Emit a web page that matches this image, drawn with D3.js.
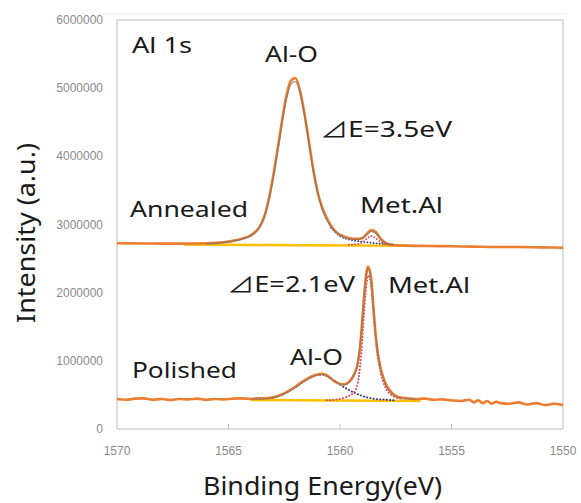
<!DOCTYPE html>
<html>
<head>
<meta charset="utf-8">
<script src="https://cdn.jsdelivr.net/npm/d3@7"></script>
<style>
  body { margin: 0; background: #fff; }
  text { font-family: "Noto Sans", "DejaVu Sans", sans-serif; }
</style>
</head>
<body>
<div id="chart"></div>
<script>
// ---- data (binding energy in eV, intensity in counts) ----
var yTicks = [0, 1000000, 2000000, 3000000, 4000000, 5000000, 6000000];
var xTicks = [1570, 1565, 1560, 1555, 1550];

// Annealed sample
var annE = [1570, 1569, 1568, 1567, 1566, 1565.6, 1565.2, 1564.8, 1564.4, 1564,
  1563.8, 1563.6, 1563.4, 1563.2, 1563, 1562.8, 1562.6, 1562.4, 1562.2, 1562,
  1561.8, 1561.6, 1561.4, 1561.2, 1561, 1560.8, 1560.6, 1560.4, 1560.2, 1560,
  1559.8, 1559.6, 1559.4, 1559.2, 1559, 1558.8, 1558.6, 1558.4, 1558.2, 1558,
  1557.8, 1557.6, 1557, 1556, 1555, 1554, 1553, 1552, 1551, 1550];
var annData = [2725000, 2722000, 2720000, 2720000, 2725000, 2730000, 2740000, 2760000, 2790000, 2840000,
  2890000, 2970000, 3110000, 3360000, 3700000, 4100000, 4520000, 4890000, 5110000, 5150000,
  4970000, 4640000, 4230000, 3810000, 3470000, 3250000, 3100000, 2980000, 2900000, 2850000,
  2820000, 2800000, 2790000, 2790000, 2800000, 2860000, 2920000, 2890000, 2800000, 2740000,
  2710000, 2700000, 2690000, 2685000, 2680000, 2675000, 2670000, 2670000, 2665000, 2660000];
var annFitE = [1566, 1565.2, 1564.8, 1564.4, 1564, 1563.6, 1563.2, 1562.8, 1562.4, 1562.2, 1562, 1561.8,
  1561.6, 1561.2, 1560.8, 1560.4, 1560, 1559.6, 1559.2, 1558.8, 1558.6, 1558.4, 1558, 1557.6];
var annFit = [2715000, 2735000, 2755000, 2785000, 2835000, 2960000, 3340000, 4060000, 4840000, 5060000, 5100000, 4940000,
  4620000, 3790000, 3220000, 2960000, 2840000, 2790000, 2780000, 2850000, 2900000, 2870000, 2730000, 2700000];
var annAlOE = [1560.4, 1560, 1559.6, 1559.2, 1558.8, 1558.4, 1558, 1557.6];
var annAlO = [2950000, 2830000, 2780000, 2755000, 2740000, 2725000, 2715000, 2705000];
var annMetE = [1559.6, 1559.2, 1559, 1558.8, 1558.6, 1558.4, 1558.2, 1558, 1557.6];
var annMet = [2705000, 2715000, 2740000, 2790000, 2830000, 2800000, 2750000, 2715000, 2700000];
var annBaseE = [1567, 1557];
var annBase = [2705000, 2688000];

// Polished sample
var polE = [1570, 1569.6, 1569.2, 1568.8, 1568.4, 1568, 1567.6, 1567.2, 1566.8, 1566.4,
  1566, 1565.6, 1565.2, 1564.8, 1564.4, 1564, 1563.6, 1563.2, 1562.8, 1562.4,
  1562, 1561.8, 1561.6, 1561.4, 1561.2, 1561, 1560.8, 1560.6, 1560.4, 1560.2,
  1560, 1559.8, 1559.6, 1559.4, 1559.2, 1559.1, 1559, 1558.9, 1558.8, 1558.75,
  1558.7, 1558.6, 1558.5, 1558.4, 1558.3, 1558.2, 1558, 1557.8, 1557.6, 1557.4,
  1557, 1556.6, 1556.2, 1555.8, 1555.4, 1555, 1554.6, 1554.2, 1554, 1553.8,
  1553.6, 1553.4, 1553.2, 1553, 1552.8, 1552.4, 1552, 1551.6, 1551.2, 1550.8,
  1550.4, 1550];
var polData = [440000, 430000, 445000, 450000, 430000, 440000, 425000, 440000, 435000, 445000,
  430000, 440000, 435000, 445000, 450000, 440000, 450000, 455000, 480000, 540000,
  620000, 670000, 710000, 750000, 780000, 800000, 810000, 790000, 740000, 690000,
  660000, 655000, 690000, 780000, 970000, 1200000, 1600000, 2020000, 2320000, 2380000,
  2360000, 2200000, 1780000, 1380000, 1100000, 920000, 700000, 580000, 510000, 470000,
  450000, 440000, 445000, 430000, 435000, 420000, 410000, 430000, 390000, 420000,
  380000, 410000, 370000, 400000, 380000, 370000, 390000, 360000, 380000, 350000,
  370000, 350000];
var polFitE = [1564, 1563.2, 1562.8, 1562.4, 1562, 1561.6, 1561.2, 1560.8, 1560.4, 1560,
  1559.8, 1559.6, 1559.4, 1559.2, 1559, 1558.9, 1558.8, 1558.75, 1558.7, 1558.6,
  1558.5, 1558.4, 1558.2, 1558, 1557.8, 1557.6, 1557.2, 1556.6];
var polFit = [440000, 450000, 475000, 530000, 610000, 700000, 770000, 800000, 740000, 660000,
  650000, 680000, 770000, 960000, 1580000, 2000000, 2300000, 2350000, 2330000, 2170000,
  1760000, 1360000, 900000, 680000, 560000, 490000, 450000, 430000];
var polAlOE = [1563.6, 1563, 1562.4, 1562, 1561.6, 1561.2, 1560.8, 1560.4, 1560, 1559.6,
  1559.2, 1558.8, 1558.4, 1558, 1557.6];
var polAlO = [445000, 458000, 538000, 615000, 702000, 772000, 796000, 738000, 652000, 572000,
  510000, 465000, 440000, 430000, 420000];
var polMetE = [1560.6, 1560.2, 1559.8, 1559.4, 1559.2, 1559, 1558.9, 1558.8, 1558.75, 1558.7,
  1558.6, 1558.5, 1558.4, 1558.2, 1558, 1557.6, 1557.2];
var polMet = [420000, 430000, 460000, 530000, 680000, 1300000, 1800000, 2150000, 2250000, 2240000,
  2100000, 1700000, 1320000, 860000, 640000, 480000, 440000];
var polBaseE = [1564, 1556.4];
var polBase = [425000, 410000];

// ---- drawing ----
var width = 581, height = 503;
var svg = d3.select("#chart").append("svg")
  .attr("width", width)
  .attr("height", height);

var x = d3.scaleLinear().domain([1570, 1550]).range([117, 563]);
var y = d3.scaleLinear().domain([0, 6000000]).range([429, 20]);

// faint outer frame line and plot box
svg.append("line")
  .attr("x1", 100).attr("x2", 567).attr("y1", 14).attr("y2", 14)
  .style("stroke", "#ececec").style("stroke-width", 1);
svg.append("rect")
  .attr("x", x(1570)).attr("y", y(6000000))
  .attr("width", x(1550) - x(1570)).attr("height", y(0) - y(6000000))
  .style("fill", "none").style("stroke", "#c8c8c8").style("stroke-width", 1.2);

// y tick labels
svg.append("g").selectAll("text")
  .data(yTicks).enter().append("text")
  .attr("x", 103)
  .attr("y", function (d) { return y(d) + 4; })
  .attr("text-anchor", "end")
  .style("font-family", "'Liberation Sans', sans-serif")
  .style("font-size", "12px")
  .style("fill", "#8a8a8a")
  .text(function (d) { return d3.format("d")(d); });

// x tick labels and small inner ticks
svg.append("g").selectAll("text")
  .data(xTicks).enter().append("text")
  .attr("x", function (d) { return x(d); })
  .attr("y", 455)
  .attr("text-anchor", "middle")
  .style("font-family", "'Liberation Sans', sans-serif")
  .style("font-size", "12px")
  .style("fill", "#8a8a8a")
  .text(function (d) { return d; });
svg.append("g").selectAll("line")
  .data(xTicks.slice(1, -1)).enter().append("line")
  .attr("x1", function (d) { return x(d); })
  .attr("x2", function (d) { return x(d); })
  .attr("y1", 429).attr("y2", 424)
  .style("stroke", "#bdbdbd");

var line = d3.line()
  .x(function (d) { return x(d[0]); })
  .y(function (d) { return y(d[1]); })
  .curve(d3.curveMonotoneX);

function zipXY(es, vs) {
  return es.map(function (e, i) { return [e, vs[i]]; });
}

function drawPath(es, vs, color, w, dash, op) {
  svg.append("path")
    .datum(zipXY(es, vs))
    .attr("d", line)
    .style("fill", "none")
    .style("stroke", color)
    .style("stroke-width", w)
    .style("stroke-dasharray", dash || null)
    .style("stroke-linecap", dash ? "round" : "butt")
    .style("opacity", op == null ? 1 : op);
}

// baselines (yellow)
drawPath(annBaseE, annBase, "#FFC000", 2.5);
drawPath(polBaseE, polBase, "#FFC000", 2.5);

// components (dotted)
drawPath(annAlOE, annAlO, "#2E3192", 1.8, "0.1,3");
drawPath(annMetE, annMet, "#E0405A", 1.8, "0.1,3");
drawPath(polAlOE, polAlO, "#2E3192", 2, "0.1,3.2");
drawPath(polMetE, polMet, "#E0405A", 2, "0.1,3.2");

// measured spectra (orange) with fit envelopes (gray) on top
drawPath(annE, annData, "#ED7D31", 2.6);
drawPath(polE, polData, "#ED7D31", 2.6);
drawPath(annFitE, annFit, "#6f6f6f", 1.2, null, 0.65);
drawPath(polFitE, polFit, "#6f6f6f", 1.2, null, 0.55);

// annotations
var notes = [
  { t: "Al 1s", x: 132, y: 53, len: 60 },
  { t: "Al-O", x: 265, y: 62, len: 53 },
  { t: "E=3.5eV", tri: true, x: 320, y: 137, len: 132 },
  { t: "Met.Al", x: 360, y: 213, len: 83 },
  { t: "Annealed", x: 130, y: 217, len: 118 },
  { t: "E=2.1eV", tri: true, x: 227, y: 292, len: 128 },
  { t: "Met.Al", x: 388, y: 293, len: 82 },
  { t: "Al-O", x: 290, y: 365, len: 53 },
  { t: "Polished", x: 132, y: 378, len: 105 }
];
var noteText = svg.append("g").selectAll("text")
  .data(notes).enter().append("text")
  .attr("x", function (d) { return d.x; })
  .attr("y", function (d) { return d.y; })
  .attr("textLength", function (d) { return d.len; })
  .attr("lengthAdjust", "spacingAndGlyphs")
  .style("font-size", "21px")
  .style("fill", "#1a1a1a");
noteText.filter(function (d) { return d.tri; })
  .append("tspan")
  .style("font-family", "'Noto Sans CJK JP', sans-serif")
  .text("\u22BF");
noteText.append("tspan")
  .text(function (d) { return d.t; });

// axis titles
svg.append("text")
  .attr("x", 203).attr("y", 495)
  .attr("textLength", 239)
  .attr("lengthAdjust", "spacingAndGlyphs")
  .style("font-size", "25px")
  .style("fill", "#1a1a1a")
  .text("Binding Energy(eV)");
svg.append("text")
  .attr("transform", "translate(35,233) rotate(-90)")
  .attr("text-anchor", "middle")
  .attr("textLength", 180)
  .attr("lengthAdjust", "spacingAndGlyphs")
  .style("font-size", "25px")
  .style("fill", "#1a1a1a")
  .text("Intensity (a.u.)");
</script>
</body>
</html>
